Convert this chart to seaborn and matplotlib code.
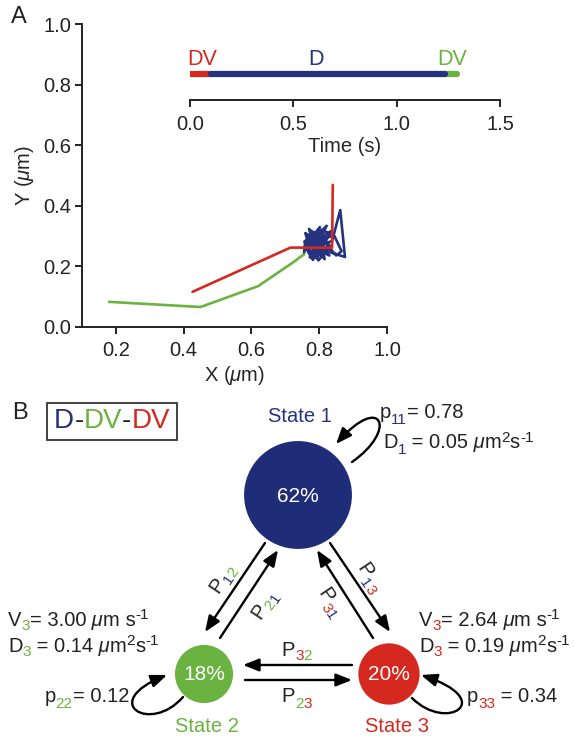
import numpy as np
import pandas as pd
import matplotlib
matplotlib.use("Agg")
import matplotlib.pyplot as plt
import seaborn as sns
from matplotlib.patches import Circle, Rectangle, FancyArrowPatch
from matplotlib.path import Path

# ---------------- data ----------------
# Panel A: trajectory segments (µm)
red_x = [0.426, 0.715, 0.838, 0.840]
red_y = [0.116, 0.262, 0.262, 0.469]
blue_x = [0.838, 0.810, 0.772, 0.824, 0.766, 0.796, 0.834, 0.760, 0.816, 0.780,
          0.802, 0.764, 0.830, 0.790, 0.756, 0.820, 0.776, 0.832, 0.798, 0.768,
          0.792, 0.822, 0.778, 0.759, 0.806, 0.816, 0.786, 0.838, 0.862, 0.876,
          0.834, 0.810, 0.782, 0.766, 0.797, 0.826, 0.772, 0.802, 0.758, 0.786,
          0.808, 0.768, 0.845, 0.866, 0.850, 0.818, 0.790, 0.770, 0.802, 0.778,
          0.758, 0.755]
blue_y = [0.300, 0.322, 0.272, 0.248, 0.304, 0.232, 0.316, 0.262, 0.290, 0.224,
          0.330, 0.270, 0.236, 0.308, 0.282, 0.244, 0.318, 0.268, 0.220, 0.258,
          0.300, 0.334, 0.238, 0.310, 0.274, 0.224, 0.262, 0.284, 0.386, 0.231,
          0.246, 0.304, 0.222, 0.250, 0.322, 0.266, 0.230, 0.296, 0.254, 0.314,
          0.242, 0.288, 0.300, 0.250, 0.236, 0.278, 0.244, 0.324, 0.262, 0.228,
          0.278, 0.240]
green_x = [0.755, 0.725, 0.620, 0.450, 0.180]
green_y = [0.240, 0.215, 0.135, 0.066, 0.083]

# Panel A inset: time line segments (s)
seg_names = ["DV", "D", "DV"]
seg_start = [0.0, 0.10, 1.235]
seg_end = [0.10, 1.235, 1.29]
seg_label_t = [0.06, 0.61, 1.27]

x_ticks = [0.2, 0.4, 0.6, 0.8, 1.0]
y_ticks = [0.0, 0.2, 0.4, 0.6, 0.8, 1.0]
t_ticks = [0.0, 0.5, 1.0, 1.5]

# Panel B: HMM states
state_names = ["State 1", "State 2", "State 3"]
state_pct = [62, 18, 20]
p_self = ["0.78", "0.12", "0.34"]
D_vals = ["0.05", "0.14", "0.19"]
V_vals = [None, "3.00", "2.64"]

BLUE = "#25327f"
GREEN = "#6bb340"
RED = "#d5281e"
CIRC_BLUE = "#1f2c78"
state_colors = [CIRC_BLUE, GREEN, RED]
txt_colors = [BLUE, GREEN, RED]

# ---------------- style ----------------
sns.set_theme(style="ticks")
plt.rcParams["font.family"] = ["Liberation Sans", "DejaVu Sans"]
plt.rcParams["mathtext.fontset"] = "custom"
plt.rcParams["mathtext.rm"] = "Liberation Sans"
plt.rcParams["mathtext.it"] = "Liberation Sans:italic"
FS = 14.5

fig = plt.figure(figsize=(5.75, 7.4), dpi=100)
W, H = 575, 740

# ---------------- panel A ----------------
ax = fig.add_axes([82 / W, 1 - 327 / H, 305 / W, 303 / H])
traj = pd.concat([
    pd.DataFrame({"x": blue_x, "y": blue_y, "seg": "D"}),
    pd.DataFrame({"x": green_x, "y": green_y, "seg": "DV2"}),
    pd.DataFrame({"x": red_x, "y": red_y, "seg": "DV1"}),
], ignore_index=True)
sns.lineplot(data=traj, x="x", y="y", hue="seg", hue_order=["D", "DV2", "DV1"],
             palette={"D": BLUE, "DV2": GREEN, "DV1": RED}, sort=False,
             estimator=None, legend=False, linewidth=1.9, ax=ax)
ax.set_xlim(0.1, 1.0)
ax.set_ylim(0.0, 1.0)
ax.set_xticks(x_ticks)
ax.set_yticks(y_ticks)
ax.set_xticklabels([f"{v:.1f}" for v in x_ticks])
ax.set_yticklabels([f"{v:.1f}" for v in y_ticks])
ax.set_xlabel(r"X ($\mu$m)", fontsize=FS, labelpad=3)
ax.set_ylabel(r"Y ($\mu$m)", fontsize=FS, labelpad=5)
sns.despine(ax=ax)
for s in ["left", "bottom"]:
    ax.spines[s].set_linewidth(1.4)
    ax.spines[s].set_color("#222222")
ax.tick_params(axis="both", labelsize=FS, length=5, width=1.4, color="#222222",
               labelcolor="#222222")
ax.tick_params(axis="x", pad=5)
ax.tick_params(axis="y", pad=3)

# inset time line
axi = fig.add_axes([190 / W, 1 - 100 / H, 310 / W, 40 / H])
tl_rows = []
for name, a, b in zip(["DV1", "D", "DV2"], seg_start, seg_end):
    tl_rows.append(pd.DataFrame({"t": [a, b], "y": [0.65, 0.65], "seg": name}))
tl = pd.concat(tl_rows, ignore_index=True)
sns.lineplot(data=tl, x="t", y="y", hue="seg", hue_order=["DV1", "DV2", "D"],
             palette={"D": BLUE, "DV2": GREEN, "DV1": RED}, sort=False,
             estimator=None, legend=False, linewidth=4.5,
             solid_capstyle="round", ax=axi)
for name, t, col in zip(seg_names, seg_label_t, [RED, BLUE, GREEN]):
    axi.text(t, 1.02, name, color=col, fontsize=FS + 1, ha="center",
             va="center", clip_on=False)
axi.set_xlim(0, 1.5)
axi.set_ylim(0, 1)
axi.set_xticks(t_ticks)
axi.set_xticklabels([f"{v:.1f}" for v in t_ticks])
axi.set_yticks([])
axi.set_xlabel("Time (s)", fontsize=FS, labelpad=2)
axi.set_ylabel("")
axi.patch.set_alpha(0)
for s in ["left", "right", "top"]:
    axi.spines[s].set_visible(False)
axi.spines["bottom"].set_linewidth(1.4)
axi.spines["bottom"].set_color("#222222")
axi.tick_params(axis="x", labelsize=FS, length=5, width=1.4, pad=6,
                color="#222222", labelcolor="#222222")

# ---------------- panel B (diagram in pixel coordinates) ----------------
axb = fig.add_axes([0, 0, 1, 1])
axb.set_xlim(0, W)
axb.set_ylim(H, 0)
axb.axis("off")
axb.patch.set_alpha(0)

renderer = fig.canvas.get_renderer()


def rich(x, y, pieces, fs=FS, rot=0, ha="left", va_off=5.5):
    items = []
    for s, c, k in pieces:
        size = fs if k in ("n", "it") else fs * 0.76
        style = "italic" if k == "it" else "normal"
        t = axb.text(0, 0, s, fontsize=size, style=style, color=c)
        w = t.get_window_extent(renderer).width
        t.remove()
        items.append((s, c, k, size, style, w))
    total = sum(i[5] for i in items)
    th = np.deg2rad(rot)
    along = np.array([np.cos(th), -np.sin(th)])
    up = np.array([-np.sin(th), -np.cos(th)])
    base = np.array([x, y], float) - up * va_off
    if ha == "center":
        base = base - along * total / 2
    elif ha == "right":
        base = base - along * total
    pos = 0.0
    for s, c, k, size, style, w in items:
        dy = {"n": 0, "it": 0, "sub": -5.0, "sup": 6.5}[k]
        p = base + along * pos + up * dy
        axb.text(p[0], p[1], s, fontsize=size, style=style, color=c,
                 rotation=rot, rotation_mode="anchor", ha="left",
                 va="baseline")
        pos += w
    return total


K = "#222222"
axb.text(19, 17, "A", fontsize=17, ha="center", va="center", color=K)
axb.text(20, 413, "B", fontsize=17, ha="center", va="center", color=K)

# model box
axb.add_patch(Rectangle((47, 403), 130, 37, fill=False, edgecolor="#333333",
                        linewidth=1.3))
rich(112, 421, [("D", BLUE, "n"), ("-", K, "n"), ("DV", GREEN, "n"),
                ("-", K, "n"), ("DV", RED, "n")], fs=20, ha="center", va_off=7)

# circles (area proportional to occupancy)
centers = [(298, 495), (204, 674), (389, 674)]
kr = 6.85
for (cx, cy), pct, col in zip(centers, state_pct, state_colors):
    r = kr * np.sqrt(pct)
    axb.add_patch(Circle((cx, cy), r, facecolor=col, edgecolor="none"))
    axb.text(cx, cy + 1, f"{pct}%", color="white", fontsize=FS + 0.5,
             ha="center", va="center")
axb.text(300, 417, state_names[0], color=BLUE, fontsize=FS, ha="center",
         va="center")
axb.text(207, 727, state_names[1], color=GREEN, fontsize=FS, ha="center",
         va="center")
axb.text(397, 727, state_names[2], color=RED, fontsize=FS, ha="center",
         va="center")

ASTYLE = "-|>,head_length=0.6,head_width=0.24"


def arrow(p0, p1):
    axb.add_patch(FancyArrowPatch(p0, p1, arrowstyle=ASTYLE, mutation_scale=16,
                                  shrinkA=0, shrinkB=0, linewidth=1.7,
                                  color="black"))


def loop(p0, c1, c2, p1):
    path = Path([p0, c1, c2, p1], [Path.MOVETO, Path.CURVE4, Path.CURVE4,
                                   Path.CURVE4])
    axb.add_patch(FancyArrowPatch(path=path, arrowstyle=ASTYLE,
                                  mutation_scale=16, linewidth=1.7,
                                  color="black"))


arrow((265, 543), (205, 632))
arrow((220, 638), (278, 550))
arrow((330, 543), (390, 632))
arrow((373, 638), (317, 550))
arrow((352, 665), (243, 665))
arrow((245, 680), (352, 680))

loop((352, 462), (398, 430), (382, 392), (336, 444))
loop((183, 697), (150, 735), (98, 702), (167, 675))
loop((412, 698), (447, 733), (498, 700), (421, 675))

# transition labels
rich(222, 578, [("P", K, "n"), ("1", BLUE, "sub"), ("2", GREEN, "sub")],
     rot=56, ha="center")
rich(264, 604, [("P", K, "n"), ("2", GREEN, "sub"), ("1", BLUE, "sub")],
     rot=56, ha="center")
rich(369, 578, [("P", K, "n"), ("1", BLUE, "sub"), ("3", RED, "sub")],
     rot=-56, ha="center")
rich(330, 603, [("P", K, "n"), ("3", RED, "sub"), ("1", BLUE, "sub")],
     rot=-56, ha="center")
rich(297, 650, [("P", K, "n"), ("3", RED, "sub"), ("2", GREEN, "sub")],
     ha="center")
rich(297, 697, [("P", K, "n"), ("2", GREEN, "sub"), ("3", RED, "sub")],
     ha="center")

# state parameters
rich(380, 413, [("p", K, "n"), ("11", BLUE, "sub"), (f"= {p_self[0]}", K, "n")])
rich(383, 443, [("D", K, "n"), ("1", BLUE, "sub"), (f" = {D_vals[0]}", K, "n"),
                (" \u03bc", K, "it"), ("m", K, "n"), ("2", K, "sup"),
                ("s", K, "n"), ("-1", K, "sup")])

rich(8, 620, [("V", K, "n"), ("3", GREEN, "sub"), (f"= {V_vals[1]}", K, "n"),
              (" \u03bc", K, "it"), ("m", K, "n"), (" s", K, "n"),
              ("-1", K, "sup")])
rich(8, 646, [("D", K, "n"), ("3", GREEN, "sub"), (f" = {D_vals[1]}", K, "n"),
              (" \u03bc", K, "it"), ("m", K, "n"), ("2", K, "sup"),
              ("s", K, "n"), ("-1", K, "sup")])
rich(129, 697, [("p", K, "n"), ("22", GREEN, "sub"), (f"= {p_self[1]}", K, "n")],
     ha="right")

rich(419, 620, [("V", K, "n"), ("3", RED, "sub"), (f"= {V_vals[2]}", K, "n"),
                (" \u03bc", K, "it"), ("m", K, "n"), (" s", K, "n"),
                ("-1", K, "sup")])
rich(419, 646, [("D", K, "n"), ("3", RED, "sub"), (f" = {D_vals[2]}", K, "n"),
                (" \u03bc", K, "it"), ("m", K, "n"), ("2", K, "sup"),
                ("s", K, "n"), ("-1", K, "sup")])
rich(467, 697, [("p", K, "n"), ("33", RED, "sub"), (f" = {p_self[2]}", K, "n")])

fig.savefig("out.png", dpi=100)
